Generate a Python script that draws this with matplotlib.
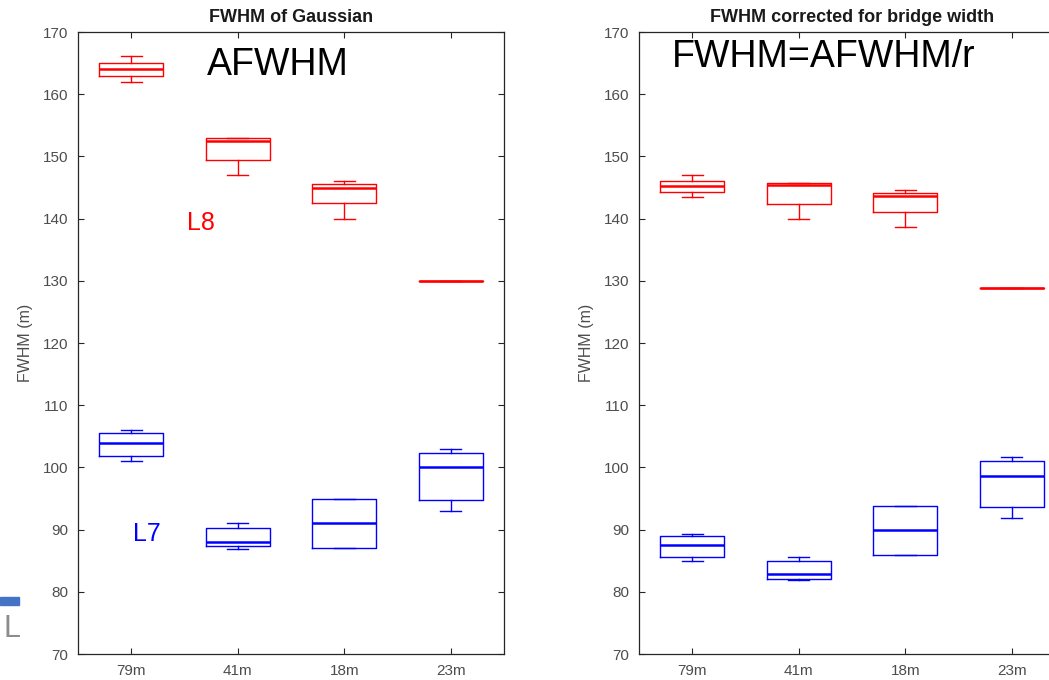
import matplotlib
matplotlib.use("Agg")
import matplotlib.pyplot as plt
from matplotlib.patches import Rectangle

plt.rcParams['font.family'] = ['Liberation Sans', 'DejaVu Sans']

categories = ["79m", "41m", "18m", "23m"]

# Left panel: FWHM of Gaussian (AFWHM)
l8_left_lo  = [162.0, 147.0, 140.0, 130.0]
l8_left_q1  = [163.0, 149.5, 142.5, 130.0]
l8_left_med = [164.0, 152.5, 145.0, 130.0]
l8_left_q3  = [165.1, 153.0, 145.6, 130.0]
l8_left_hi  = [166.1, 153.0, 146.0, 130.0]

l7_left_lo  = [101.0, 86.9, 87.0, 93.0]
l7_left_q1  = [101.8, 87.3, 87.0, 94.8]
l7_left_med = [104.0, 88.0, 91.0, 100.0]
l7_left_q3  = [105.5, 90.3, 95.0, 102.3]
l7_left_hi  = [106.0, 91.0, 95.0, 103.0]

# Right panel: FWHM corrected for bridge width
l8_right_lo  = [143.4, 140.0, 138.6, 128.8]
l8_right_q1  = [144.3, 142.4, 141.1, 128.8]
l8_right_med = [145.2, 145.35, 143.6, 128.8]
l8_right_q3  = [146.05, 145.7, 144.1, 128.8]
l8_right_hi  = [147.0, 145.7, 144.6, 128.8]

l7_right_lo  = [85.0, 81.85, 85.9, 91.9]
l7_right_q1  = [85.6, 82.1, 85.9, 93.6]
l7_right_med = [87.6, 82.9, 89.9, 98.7]
l7_right_q3  = [88.9, 84.9, 93.8, 101.0]
l7_right_hi  = [89.3, 85.65, 93.8, 101.7]

yticks = list(range(70, 171, 10))


def make_stats(lo, q1, med, q3, hi):
    return [dict(whislo=a, q1=b, med=c, q3=d, whishi=e, fliers=[], label=lab)
            for a, b, c, d, e, lab in zip(lo, q1, med, q3, hi, categories)]


def draw_group(ax, stats, color):
    ax.bxp(stats, positions=[1, 2, 3, 4], widths=0.6, capwidths=0.2,
           showfliers=False,
           boxprops=dict(color=color, linewidth=1.0),
           whiskerprops=dict(color=color, linewidth=1.0),
           capprops=dict(color=color, linewidth=1.0),
           medianprops=dict(color=color, linewidth=1.8))


fig = plt.figure(figsize=(10.49, 6.8), dpi=100)
ax1 = fig.add_axes([0.07436, 0.0382, 0.4061, 0.9147])
ax2 = fig.add_axes([0.6092, 0.0382, 0.4061, 0.9147])

draw_group(ax1, make_stats(l8_left_lo, l8_left_q1, l8_left_med, l8_left_q3, l8_left_hi), '#ff0000')
draw_group(ax1, make_stats(l7_left_lo, l7_left_q1, l7_left_med, l7_left_q3, l7_left_hi), '#0000ff')
draw_group(ax2, make_stats(l8_right_lo, l8_right_q1, l8_right_med, l8_right_q3, l8_right_hi), '#ff0000')
draw_group(ax2, make_stats(l7_right_lo, l7_right_q1, l7_right_med, l7_right_q3, l7_right_hi), '#0000ff')

for ax, title in [(ax1, "FWHM of Gaussian"), (ax2, "FWHM corrected for bridge width")]:
    ax.set_xlim(0.5, 4.5)
    ax.set_ylim(70, 170)
    ax.set_yticks(yticks)
    ax.set_xticks([1, 2, 3, 4])
    ax.set_xticklabels(categories)
    ax.tick_params(direction='in', top=True, right=True, length=4.5, width=0.8,
                   color='#262626', labelcolor='#4d4d4d', labelsize=11, pad=7)
    for sp in ax.spines.values():
        sp.set_color('#262626')
        sp.set_linewidth(0.9)
    ax.set_title(title, fontsize=13, fontweight='bold', color='#1a1a1a', pad=7)
    ax.set_ylabel("FWHM (m)", fontsize=11.5, color='#4d4d4d')
    ax.yaxis.set_label_coords(-0.106, 0.5)

ax1.text(1.71, 163.1, "AFWHM", fontsize=27, color='black', ha='left', va='baseline')
ax2.text(0.81, 164.4, "FWHM=AFWHM/r", fontsize=27, color='black', ha='left', va='baseline')
ax1.text(1.52, 138.2, "L8", fontsize=18, color='#ff0000', ha='left', va='baseline')
ax1.text(1.02, 88.2, "L7", fontsize=18, color='#0000ff', ha='left', va='baseline')

# slide fragment at bottom-left
fig.patches.append(Rectangle((0.0, (680 - 605) / 680), 19 / 1049, 8 / 680,
                             transform=fig.transFigure, color='#4472c4', zorder=5))
fig.text(4 / 1049, (680 - 637) / 680, "L", fontsize=22, color='#8c8c8c',
         ha='left', va='baseline')

fig.savefig("out.png", dpi=100)
